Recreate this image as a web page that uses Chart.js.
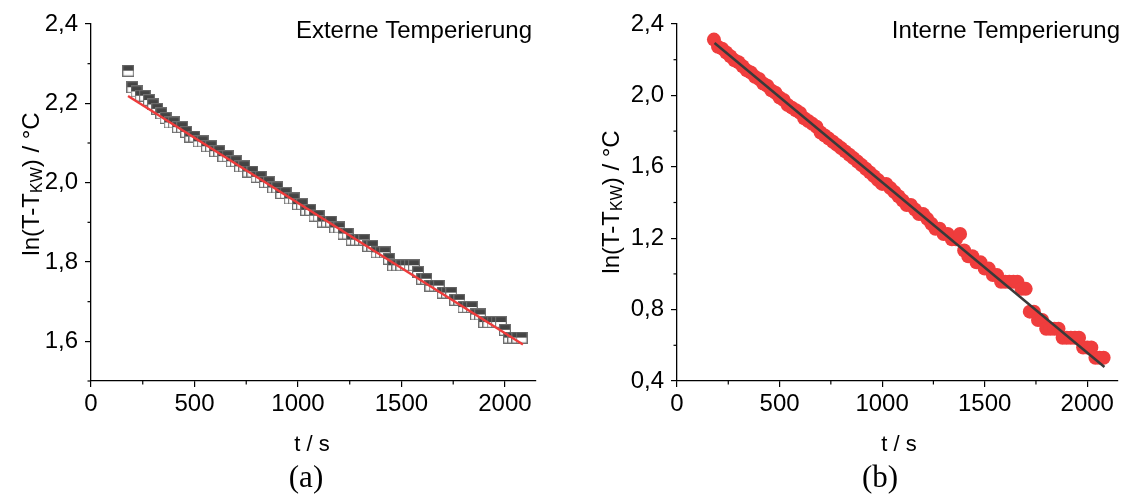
<!DOCTYPE html>
<html><head><meta charset="utf-8">
<script src="https://cdn.jsdelivr.net/npm/chart.js@4/dist/chart.umd.min.js"></script>
<style>
html,body{margin:0;padding:0;background:#fff;width:1125px;height:494px;overflow:hidden}
.wrap{position:absolute;top:0;height:494px}
#wa{left:0;width:562px}
#wb{left:562px;width:563px}
canvas{display:block}
</style></head><body>
<div class="wrap" id="wa"><canvas id="ca" width="562" height="494"></canvas></div>
<div class="wrap" id="wb"><canvas id="cb" width="563" height="494"></canvas></div>
<script>
// ---- data ----
const timeS = [180,200,220,240,260,280,300,320,340,360,
  380,400,420,440,460,480,500,520,540,560,
  580,600,620,640,660,680,700,720,740,760,
  780,800,820,840,860,880,900,920,940,960,
  980,1000,1020,1040,1060,1080,1100,1120,1140,1160,
  1180,1200,1220,1240,1260,1280,1300,1320,1340,1360,
  1380,1400,1420,1440,1460,1480,1500,1520,1540,1560,
  1580,1600,1620,1640,1660,1680,1700,1720,1740,1760,
  1780,1800,1820,1840,1860,1880,1900,1920,1940,1960,
  1980,2000,2020,2040,2060,2080];
// (a) Externe Temperierung
const lnExtern = [2.2824,2.2407,2.2300,2.2192,2.2192,2.2083,2.1972,2.1861,2.1748,2.1633,
  2.1518,2.1518,2.1401,2.1401,2.1282,2.1163,2.1163,2.1041,2.1041,2.0919,
  2.0919,2.0794,2.0794,2.0669,2.0669,2.0541,2.0541,2.0412,2.0412,2.0281,
  2.0281,2.0149,2.0149,2.0015,2.0015,1.9879,1.9879,1.9741,1.9741,1.9601,
  1.9601,1.9459,1.9459,1.9315,1.9315,1.9169,1.9169,1.9021,1.9021,1.9021,
  1.8871,1.8871,1.8718,1.8718,1.8563,1.8563,1.8563,1.8563,1.8405,1.8405,
  1.8245,1.8245,1.8245,1.8083,1.7918,1.7918,1.7918,1.7918,1.7918,1.7918,
  1.7750,1.7579,1.7579,1.7405,1.7405,1.7405,1.7228,1.7228,1.7228,1.7047,
  1.7047,1.6864,1.6864,1.6864,1.6677,1.6677,1.6487,1.6487,1.6487,1.6487,
  1.6487,1.6292,1.6094,1.6094,1.6094,1.6094];
const fitExternT = [179, 2087];
const fitExternY = [2.2185, 1.592];
// (b) Interne Temperierung
const lnIntern = [2.3126,2.2721,2.2618,2.2407,2.2192,2.1972,2.1861,2.1633,2.1401,2.1282,
  2.1041,2.0919,2.0669,2.0541,2.0281,2.0149,1.9879,1.9741,1.9459,1.9315,
  1.9169,1.9021,1.8718,1.8563,1.8405,1.8245,1.7918,1.7750,1.7579,1.7405,
  1.7228,1.7047,1.6864,1.6677,1.6487,1.6292,1.6094,1.5892,1.5686,1.5476,
  1.5261,1.5041,1.5041,1.4816,1.4586,1.4351,1.4110,1.3863,1.3863,1.3610,
  1.3350,1.3350,1.3083,1.2809,1.2528,1.2528,1.2238,1.2238,1.1939,1.1939,
  1.2238,1.1314,1.0986,1.0986,1.0647,1.0647,1.0296,1.0296,0.9933,0.9933,
  0.9555,0.9555,0.9555,0.9555,0.9555,0.9163,0.9163,0.7885,0.7885,0.7419,
  0.7419,0.6931,0.6931,0.6931,0.6931,0.6419,0.6419,0.6419,0.6419,0.6419,
  0.5878,0.5878,0.5878,0.5306,0.5306,0.5306];
const fitInternT = [183, 2084];
const fitInternY = [2.2935, 0.478];
// ticks
const xTicks = [0,500,1000,1500,2000];
const xMinor = [250,750,1250,1750];
const yTicksA = [1.6,1.8,2.0,2.2,2.4];
const yMinorA = [1.5,1.7,1.9,2.1,2.3];
const yTicksB = [0.4,0.8,1.2,1.6,2.0,2.4];
const yMinorB = [0.6,1.0,1.4,1.8,2.2];

// ---- drawing ----
const FONT = '"Liberation Sans", Arial, sans-serif';
const SERIF = '"Liberation Serif", "Times New Roman", serif';
const fmtY = v => Number(v).toFixed(1).replace('.', ',');
const toPts = (xs, ys) => xs.map((x, i) => ({x: x, y: ys[i]}));

function squareMarker(){
  const c = document.createElement('canvas'); c.width = 12; c.height = 12;
  const g = c.getContext('2d');
  g.fillStyle = '#ffffff'; g.fillRect(0,0,12,12);
  g.fillStyle = '#444444'; g.fillRect(0,0,12,6);
  g.strokeStyle = '#6e6e6e'; g.lineWidth = 1.2; g.strokeRect(0.6,0.6,10.8,10.8);
  return c;
}

const decor = {
  id: 'decor',
  afterDraw(chart, args, o){
    const ctx = chart.ctx, xs = chart.scales.x, ys = chart.scales.y, ca = chart.chartArea;
    ctx.save();
    ctx.strokeStyle = '#000'; ctx.lineWidth = 1.2;
    o.xMinor.forEach(v => { const px = xs.getPixelForValue(v);
      ctx.beginPath(); ctx.moveTo(px, ca.bottom); ctx.lineTo(px, ca.bottom + 3.5); ctx.stroke(); });
    o.yMinor.forEach(v => { const py = ys.getPixelForValue(v);
      ctx.beginPath(); ctx.moveTo(ca.left, py); ctx.lineTo(ca.left - 3.5, py); ctx.stroke(); });
    ctx.fillStyle = '#000';
    ctx.font = '24px ' + FONT; ctx.textAlign = 'right'; ctx.textBaseline = 'alphabetic';
    ctx.fillText(o.title, o.titleX, 38);
    ctx.textAlign = 'center'; ctx.textBaseline = 'middle';
    ctx.font = '22px ' + FONT;
    ctx.fillText('t / s', o.xTitleX, 445);
    ctx.font = '31px ' + SERIF;
    ctx.fillText(o.label, o.labelX, 479);
    // rotated y title with subscript
    ctx.translate(o.yTitleX, o.yTitleY); ctx.rotate(-Math.PI/2);
    ctx.textAlign = 'left'; ctx.textBaseline = 'middle';
    const f1 = '24px ' + FONT, f2 = '16px ' + FONT;
    ctx.font = f1; const w1 = ctx.measureText('ln(T-T').width, w3 = ctx.measureText(') / °C').width;
    ctx.font = f2; const w2 = ctx.measureText('KW').width;
    let x = -(w1 + w2 + w3) / 2;
    ctx.font = f1; ctx.fillText('ln(T-T', x, 0); x += w1;
    ctx.font = f2; ctx.fillText('KW', x, 6); x += w2;
    ctx.font = f1; ctx.fillText(') / °C', x, 0);
    ctx.restore();
  }
};

function build(id, cfg){
  return new Chart(document.getElementById(id), {
    type: 'scatter',
    data: { datasets: [
      { data: cfg.fit, showLine: true, borderColor: cfg.fitColor, borderWidth: 2.5,
        pointRadius: 0, fill: false, order: 0 },
      Object.assign({ data: cfg.pts, order: 1 }, cfg.pointStyle)
    ]},
    options: {
      responsive: false, animation: false, devicePixelRatio: 1,
      layout: { padding: { top: 24, right: cfg.padRight, bottom: 0, left: 0 } },
      plugins: { legend: { display: false }, tooltip: { enabled: false }, decor: cfg.decor },
      scales: {
        x: { type: 'linear', min: 0, max: 2150,
          afterBuildTicks: s => { s.ticks = xTicks.map(v => ({value: v})); },
          afterFit: s => { s.height = 113; },
          ticks: { font: { family: FONT, size: 24 }, color: '#000', padding: 3, maxRotation: 0, autoSkip: false,
            callback: v => String(v) },
          grid: { drawOnChartArea: false, drawTicks: true, tickLength: 6, color: '#000', lineWidth: 1.2 },
          border: { display: true, color: '#000', width: 1.3 } },
        y: { type: 'linear', min: cfg.yMin, max: cfg.yMax,
          afterBuildTicks: s => { s.ticks = cfg.yTicks.map(v => ({value: v})); },
          afterFit: s => { s.width = cfg.yWidth; },
          ticks: { font: { family: FONT, size: 24 }, color: '#000', padding: 7, autoSkip: false,
            callback: v => fmtY(v) },
          grid: { drawOnChartArea: false, drawTicks: true, tickLength: 6, color: '#000', lineWidth: 1.2 },
          border: { display: true, color: '#000', width: 1.3 } }
      }
    },
    plugins: [decor]
  });
}

build('ca', {
  pts: toPts(timeS, lnExtern), fit: toPts(fitExternT, fitExternY), fitColor: '#ee3b3b',
  pointStyle: { pointStyle: squareMarker(), pointRadius: 5 },
  yMin: 1.5, yMax: 2.4, yTicks: yTicksA, padRight: 26, yWidth: 91,
  decor: { xMinor: xMinor, yMinor: yMinorA, title: 'Externe Temperierung', titleX: 532,
    xTitleX: 312, label: '(a)', labelX: 306, yTitleX: 32, yTitleY: 184 }
});
build('cb', {
  pts: toPts(timeS, lnIntern), fit: toPts(fitInternT, fitInternY), fitColor: '#3a3a3a',
  pointStyle: { pointStyle: 'circle', pointRadius: 7, backgroundColor: '#ef3d3d', borderWidth: 0 },
  yMin: 0.4, yMax: 2.4, yTicks: yTicksB, padRight: 2, yWidth: 115,
  decor: { xMinor: xMinor, yMinor: yMinorB, title: 'Interne Temperierung', titleX: 1120 - 562,
    xTitleX: 899 - 562, label: '(b)', labelX: 880 - 562, yTitleX: 612 - 562, yTitleY: 202 }
});
</script>
</body></html>
